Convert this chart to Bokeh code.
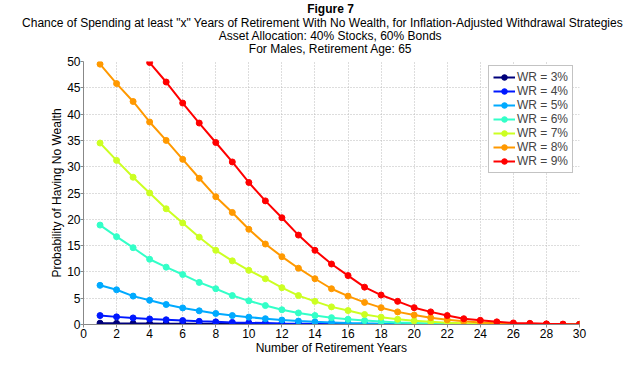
import math
from bokeh.plotting import figure
from bokeh.models import FixedTicker
from bokeh.layouts import column, row
from bokeh.core.properties import value
from bokeh.embed import file_html
from bokeh.resources import INLINE

nan = float("nan")
years = list(range(1, 31))
labels = ["WR = 3%", "WR = 4%", "WR = 5%", "WR = 6%", "WR = 7%", "WR = 8%", "WR = 9%"]
colors = ["#00007a", "#0018ff", "#00aaff", "#33ffc8", "#ccff22", "#ff9900", "#ff0000"]

wr3 = [0.25, 0.22, 0.2, 0.18, 0.16, 0.14, 0.12, 0.1, 0.09, 0.08, 0.07, 0.06, 0.05, 0.04, 0.03,
       0.03, 0.02, 0.02, 0.01, 0.01, 0.01, 0.01, 0.0, 0.0, 0.0, 0.0, 0.0, 0.0, 0.0, 0.0]
wr4 = [1.7, 1.45, 1.25, 1.05, 0.9, 0.75, 0.6, 0.5, 0.4, 0.33, 0.27, 0.2, 0.15, 0.12, 0.09,
       0.07, 0.05, 0.04, 0.03, 0.02, 0.01, 0.01, 0.01, 0.0, 0.0, 0.0, 0.0, 0.0, 0.0, 0.0]
wr5 = [7.45, 6.6, 5.4, 4.6, 3.8, 3.15, 2.6, 2.1, 1.7, 1.4, 1.1, 0.85, 0.65, 0.5, 0.4,
       0.3, 0.22, 0.16, 0.12, 0.09, 0.06, 0.04, 0.03, 0.02, 0.01, 0.01, 0.0, 0.0, 0.0, 0.0]
wr6 = [18.9, 16.7, 14.6, 12.4, 10.9, 9.5, 8.0, 6.8, 5.5, 4.5, 3.6, 2.8, 2.2, 1.7, 1.3,
       1.0, 0.75, 0.55, 0.4, 0.3, 0.2, 0.15, 0.1, 0.07, 0.05, 0.03, 0.02, 0.01, 0.01, 0.0]
wr7 = [34.5, 31.2, 28.0, 25.0, 22.0, 19.3, 16.6, 14.1, 12.1, 10.3, 8.7, 7.0, 5.5, 4.4, 3.35,
       2.65, 1.9, 1.4, 1.0, 0.7, 0.5, 0.35, 0.25, 0.15, 0.1, 0.06, 0.04, 0.02, 0.01, 0.0]
wr8 = [49.5, 45.8, 42.4, 38.5, 35.0, 31.4, 27.8, 24.3, 21.3, 18.1, 15.3, 12.9, 10.7, 8.7, 6.8,
       5.4, 4.2, 3.2, 2.4, 1.8, 1.3, 0.9, 0.6, 0.4, 0.25, 0.15, 0.1, 0.05, 0.03, 0.02]
wr9 = [nan, nan, nan, 49.8, 46.1, 42.1, 38.3, 34.6, 30.9, 27.0, 23.5, 20.3, 17.0, 14.1, 11.5,
       9.3, 7.1, 5.6, 4.4, 3.2, 2.4, 1.7, 1.1, 0.8, 0.5, 0.3, 0.22, 0.12, 0.08, 0.05]
series = [wr3, wr4, wr5, wr6, wr7, wr8, wr9]

title_main = "Figure 7"
subtitle_lines = ["Chance of Spending at least \"x\" Years of Retirement With No Wealth, for Inflation-Adjusted Withdrawal Strategies",
                  "Asset Allocation: 40% Stocks, 60% Bonds",
                  "For Males, Retirement Age: 65"]
x_label = "Number of Retirement Years"
y_label = "Probability of Having No Wealth"
x_ticks = list(range(0, 31, 2))
y_ticks = list(range(0, 51, 5))

FONT = "Liberation Sans"
W = 624
TH = 56            # height of the title strip
FL, FR, FT, FB = 83, 579, 61, 324   # frame edges on the page

# ---- title strip (pixel coordinates) ----
t = figure(width=W, height=TH, output_backend="svg", toolbar_location=None,
           x_range=(0, W), y_range=(TH, 0), x_axis_location=None, y_axis_location=None,
           min_border=0)
t.outline_line_color = None
t.grid.visible = False
t.text(x=[330], y=[8], text=[title_main], text_font=value(FONT), text_font_size="12px",
       text_font_style="bold", text_color="black", text_align="center", text_baseline="middle")
t.text(x=[322, 330, 330], y=[22, 35, 48], text=subtitle_lines, text_font=value(FONT),
       text_font_size="12px", text_color="black", text_align="center", text_baseline="middle")

# ---- main chart ----
p = figure(width=W, height=364 - TH, output_backend="svg", toolbar_location=None,
           x_range=(0, 30), y_range=(0, 50),
           min_border_left=FL, min_border_right=W - FR, min_border_top=FT - TH,
           min_border_bottom=364 - FB)
p.title = None
p.outline_line_color = None
p.background_fill_color = "white"
p.border_fill_color = "white"

for ys, c, lab in zip(series, colors, labels):
    p.line(years, ys, line_color=c, line_width=2, legend_label=lab)
    p.scatter(years, ys, size=6, fill_color=c, line_color=c, legend_label=lab)

p.xaxis.ticker = FixedTicker(ticks=x_ticks)
p.yaxis.ticker = FixedTicker(ticks=y_ticks)
p.xgrid.ticker = FixedTicker(ticks=x_ticks)
p.ygrid.ticker = FixedTicker(ticks=y_ticks)
for g in (p.xgrid, p.ygrid):
    g.grid_line_color = "#bbbbbb"
    g.grid_line_dash = "1 2"
    g.grid_line_width = 1

for ax in (p.xaxis, p.yaxis):
    ax.axis_line_color = "#888888"
    ax.major_tick_line_color = "#888888"
    ax.major_tick_in = 0
    ax.major_tick_out = 3
    ax.minor_tick_line_color = None
    ax.major_label_text_font = FONT
    ax.major_label_text_font_size = "12px"
    ax.major_label_text_color = "black"
    ax.axis_label_text_font = FONT
    ax.axis_label_text_font_size = "12px"
    ax.axis_label_text_font_style = "normal"
    ax.axis_label_text_color = "black"
p.xaxis.axis_label = x_label
p.yaxis.axis_label = y_label
p.xaxis.major_label_standoff = 1
p.yaxis.major_label_standoff = 0
p.xaxis.axis_label_standoff = 0
p.yaxis.axis_label_standoff = 0

leg = p.legend[0]
leg.location = (488 - FL, FB - 173)
leg.label_text_font = FONT
leg.label_text_font_size = "12px"
leg.label_height = 14
leg.glyph_height = 14
leg.glyph_width = 22
leg.spacing = 0
leg.padding = 4
leg.margin = 0
leg.label_standoff = 2
leg.border_line_color = "#888888"
leg.border_line_width = 1
leg.background_fill_alpha = 1

layout = column(row(t), p, spacing=0)
open("out.html", "w").write(file_html(layout, INLINE))
